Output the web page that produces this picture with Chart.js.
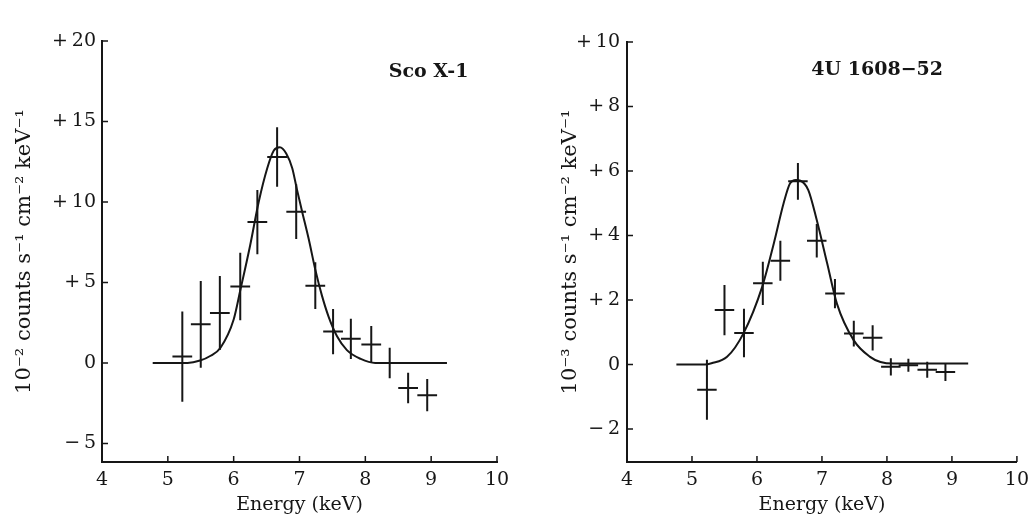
<!DOCTYPE html>
<html>
<head>
<meta charset="utf-8">
<script src="https://cdn.jsdelivr.net/npm/chart.js@4/dist/chart.umd.min.js"></script>
<style>
  html, body { margin: 0; padding: 0; background: #fff; }
  #wrap { position: relative; width: 1036px; height: 517px; }
  .panel { position: absolute; top: 0; width: 518px; height: 517px; }
</style>
</head>
<body>
<div id="wrap">
  <div class="panel" style="left:0"><canvas id="sco" width="518" height="517"></canvas></div>
  <div class="panel" style="left:518px"><canvas id="u1608" width="518" height="517"></canvas></div>
</div>
<script>
// energy axis shared by both panels (keV)
const energyTicks = [4, 5, 6, 7, 8, 9, 10]

// Sco X-1, units 10^-2 counts s^-1 cm^-2 keV^-1
const scoEnergy = [5.22, 5.50, 5.79, 6.10, 6.36, 6.66, 6.95, 7.24, 7.51, 7.78, 8.09, 8.37, 8.65, 8.94]
const scoFlux   = [0.4, 2.4, 3.1, 4.75, 8.75, 12.8, 9.4, 4.8, 1.95, 1.5, 1.15, 0.0, -1.55, -2.0]
const scoErr    = [2.8, 2.7, 2.3, 2.1, 2.0, 1.85, 1.7, 1.45, 1.4, 1.25, 1.15, 0.95, 0.95, 1.0]
const scoBin    = 0.15
const scoFitE   = [4.77, 5.30, 5.49, 5.65, 5.80, 6.00, 6.10, 6.25, 6.38, 6.51, 6.61, 6.70, 6.80, 6.89, 6.96, 7.04, 7.14, 7.24, 7.34, 7.44, 7.57, 7.72, 7.93, 8.15, 9.24]
const scoFitF   = [0, 0, 0.15, 0.45, 0.95, 2.7, 4.5, 7.3, 10.0, 12.1, 13.2, 13.4, 13.0, 12.1, 10.8, 9.4, 7.7, 5.8, 4.2, 2.9, 1.66, 0.8, 0.25, 0, 0]
const scoTicks  = [-5, 0, 5, 10, 15, 20]

// 4U 1608-52, units 10^-3 counts s^-1 cm^-2 keV^-1
const uEnergy = [5.23, 5.50, 5.80, 6.09, 6.36, 6.63, 6.92, 7.20, 7.49, 7.78, 8.06, 8.33, 8.62, 8.90]
const uFlux   = [-0.78, 1.69, 0.98, 2.52, 3.22, 5.68, 3.84, 2.2, 0.96, 0.83, -0.07, -0.02, -0.16, -0.23]
const uErr    = [0.93, 0.78, 0.75, 0.67, 0.62, 0.57, 0.52, 0.45, 0.40, 0.39, 0.27, 0.2, 0.25, 0.28]
const uBin    = 0.15
const uFitE   = [4.76, 5.20, 5.30, 5.54, 5.79, 6.08, 6.26, 6.41, 6.51, 6.60, 6.67, 6.79, 6.92, 7.08, 7.23, 7.49, 7.74, 7.90, 8.10, 9.25]
const uFitF   = [0, 0, 0.04, 0.24, 0.96, 2.41, 3.76, 5.0, 5.62, 5.72, 5.70, 5.41, 4.48, 3.14, 1.89, 0.75, 0.24, 0.08, 0.03, 0.03]
const uTicks  = [-2, 0, 2, 4, 6, 8, 10]

const INK = '#161616'
const SERIF = '"DejaVu Serif", "Liberation Serif", serif'

// crosses: horizontal bar = energy bin, vertical bar = 1 sigma
const errorBars = {
  id: 'errorBars',
  afterDatasetsDraw(chart) {
    const { ctx, scales: { x, y } } = chart
    chart.data.datasets.forEach(ds => {
      if (!ds.errors) return
      ctx.save()
      ctx.strokeStyle = INK
      ctx.lineWidth = 2
      ctx.beginPath()
      ds.data.forEach((p, i) => {
        const px = x.getPixelForValue(p.x)
        const py = y.getPixelForValue(p.y)
        ctx.moveTo(x.getPixelForValue(p.x - ds.binHalf), py)
        ctx.lineTo(x.getPixelForValue(p.x + ds.binHalf), py)
        ctx.moveTo(px, y.getPixelForValue(p.y + ds.errors[i]))
        ctx.lineTo(px, y.getPixelForValue(p.y - ds.errors[i]))
      })
      ctx.stroke()
      ctx.restore()
    })
  }
}

// tick marks pointing into the plot, like the printed figure
const inwardTicks = {
  id: 'inwardTicks',
  afterDraw(chart) {
    const { ctx, scales: { x, y } } = chart
    ctx.save()
    ctx.strokeStyle = INK
    ctx.lineWidth = 1.5
    ctx.beginPath()
    x.ticks.forEach(t => {
      const px = x.getPixelForValue(t.value)
      ctx.moveTo(px, x.top)
      ctx.lineTo(px, x.top - 6)
    })
    y.ticks.forEach(t => {
      const py = y.getPixelForValue(t.value)
      ctx.moveTo(y.right, py)
      ctx.lineTo(y.right + 6, py)
    })
    ctx.stroke()
    ctx.restore()
  }
}

const sourceLabel = {
  id: 'sourceLabel',
  afterDraw(chart, args, opts) {
    if (!opts.text) return
    const { ctx, scales: { x, y } } = chart
    ctx.save()
    ctx.fillStyle = INK
    ctx.font = 'bold 19px ' + SERIF
    ctx.textAlign = 'center'
    ctx.textBaseline = 'middle'
    ctx.fillText(opts.text, x.getPixelForValue(opts.x), y.getPixelForValue(opts.y))
    ctx.restore()
  }
}

// the print puts a small gap between the sign and the number
const signed = v => v > 0 ? '+\u2009' + v : v < 0 ? '\u2212\u2009' + (-v) : '0'

const makePanel = (id, cfg) => {
  const points = cfg.energy.map((e, i) => ({ x: e, y: cfg.flux[i] }))
  const fit = cfg.fitE.map((e, i) => ({ x: e, y: cfg.fitF[i] }))

  return new Chart(document.getElementById(id), {
    type: 'scatter',
    data: {
      datasets: [
        {
          label: 'fit',
          type: 'line',
          data: fit,
          borderColor: INK,
          borderWidth: 2,
          pointRadius: 0,
          fill: false,
          cubicInterpolationMode: 'monotone'
        },
        {
          label: 'data',
          data: points,
          pointRadius: 0,
          errors: cfg.err,
          binHalf: cfg.bin
        }
      ]
    },
    options: {
      responsive: false,
      animation: false,
      layout: { padding: cfg.padding },
      plugins: {
        legend: { display: false },
        tooltip: { enabled: false },
        sourceLabel: cfg.label
      },
      scales: {
        x: {
          type: 'linear',
          min: 4,
          max: 10,
          afterBuildTicks: s => { s.ticks = energyTicks.map(v => ({ value: v })) },
          afterFit: s => { s.height = 55 },
          grid: { display: true, drawOnChartArea: false, drawTicks: false },
          border: { display: true, color: INK, width: 2 },
          ticks: { color: INK, font: { family: SERIF, size: 19 }, padding: 7, maxRotation: 0 },
          title: {
            display: true,
            text: 'Energy (keV)',
            color: INK,
            font: { family: SERIF, size: 19 },
            padding: { top: 0, bottom: 1 }
          }
        },
        y: {
          type: 'linear',
          min: cfg.yMin,
          max: cfg.yMax,
          afterBuildTicks: s => { s.ticks = cfg.yTicks.map(v => ({ value: v })) },
          afterFit: s => { s.width = cfg.yWidth },
          grid: { display: true, drawOnChartArea: false, drawTicks: false },
          border: { display: true, color: INK, width: 2 },
          ticks: { color: INK, font: { family: SERIF, size: 19 }, padding: cfg.yTickPad, callback: signed },
          title: {
            display: true,
            text: cfg.yTitle,
            color: INK,
            font: { family: SERIF, size: 21 },
            padding: { top: cfg.yTitlePad, bottom: 0 }
          }
        }
      }
    },
    plugins: [errorBars, inwardTicks, sourceLabel]
  })
}

document.addEventListener('DOMContentLoaded', () => {
  makePanel('sco', {
    energy: scoEnergy, flux: scoFlux, err: scoErr, bin: scoBin,
    fitE: scoFitE, fitF: scoFitF,
    yMin: -6.15, yMax: 20, yTicks: scoTicks,
    yTitle: '10\u207B\u00B2 counts s\u207B\u00B9 cm\u207B\u00B2 keV\u207B\u00B9',
    label: { text: 'Sco X-1', x: 8.96, y: 18.1 },
    padding: { top: 41, right: 21, bottom: 0, left: 0 },
    yWidth: 102, yTickPad: 6, yTitlePad: 12
  })

  makePanel('u1608', {
    energy: uEnergy, flux: uFlux, err: uErr, bin: uBin,
    fitE: uFitE, fitF: uFitF,
    yMin: -3.02, yMax: 10, yTicks: uTicks,
    yTitle: '10\u207B\u00B3 counts s\u207B\u00B9 cm\u207B\u00B2 keV\u207B\u00B9',
    label: { text: '4U 1608\u221252', x: 7.85, y: 9.14 },
    padding: { top: 42, right: 19, bottom: 0, left: 0 },
    yWidth: 109, yTickPad: 7, yTitlePad: 40
  })
})
</script>
</body>
</html>
